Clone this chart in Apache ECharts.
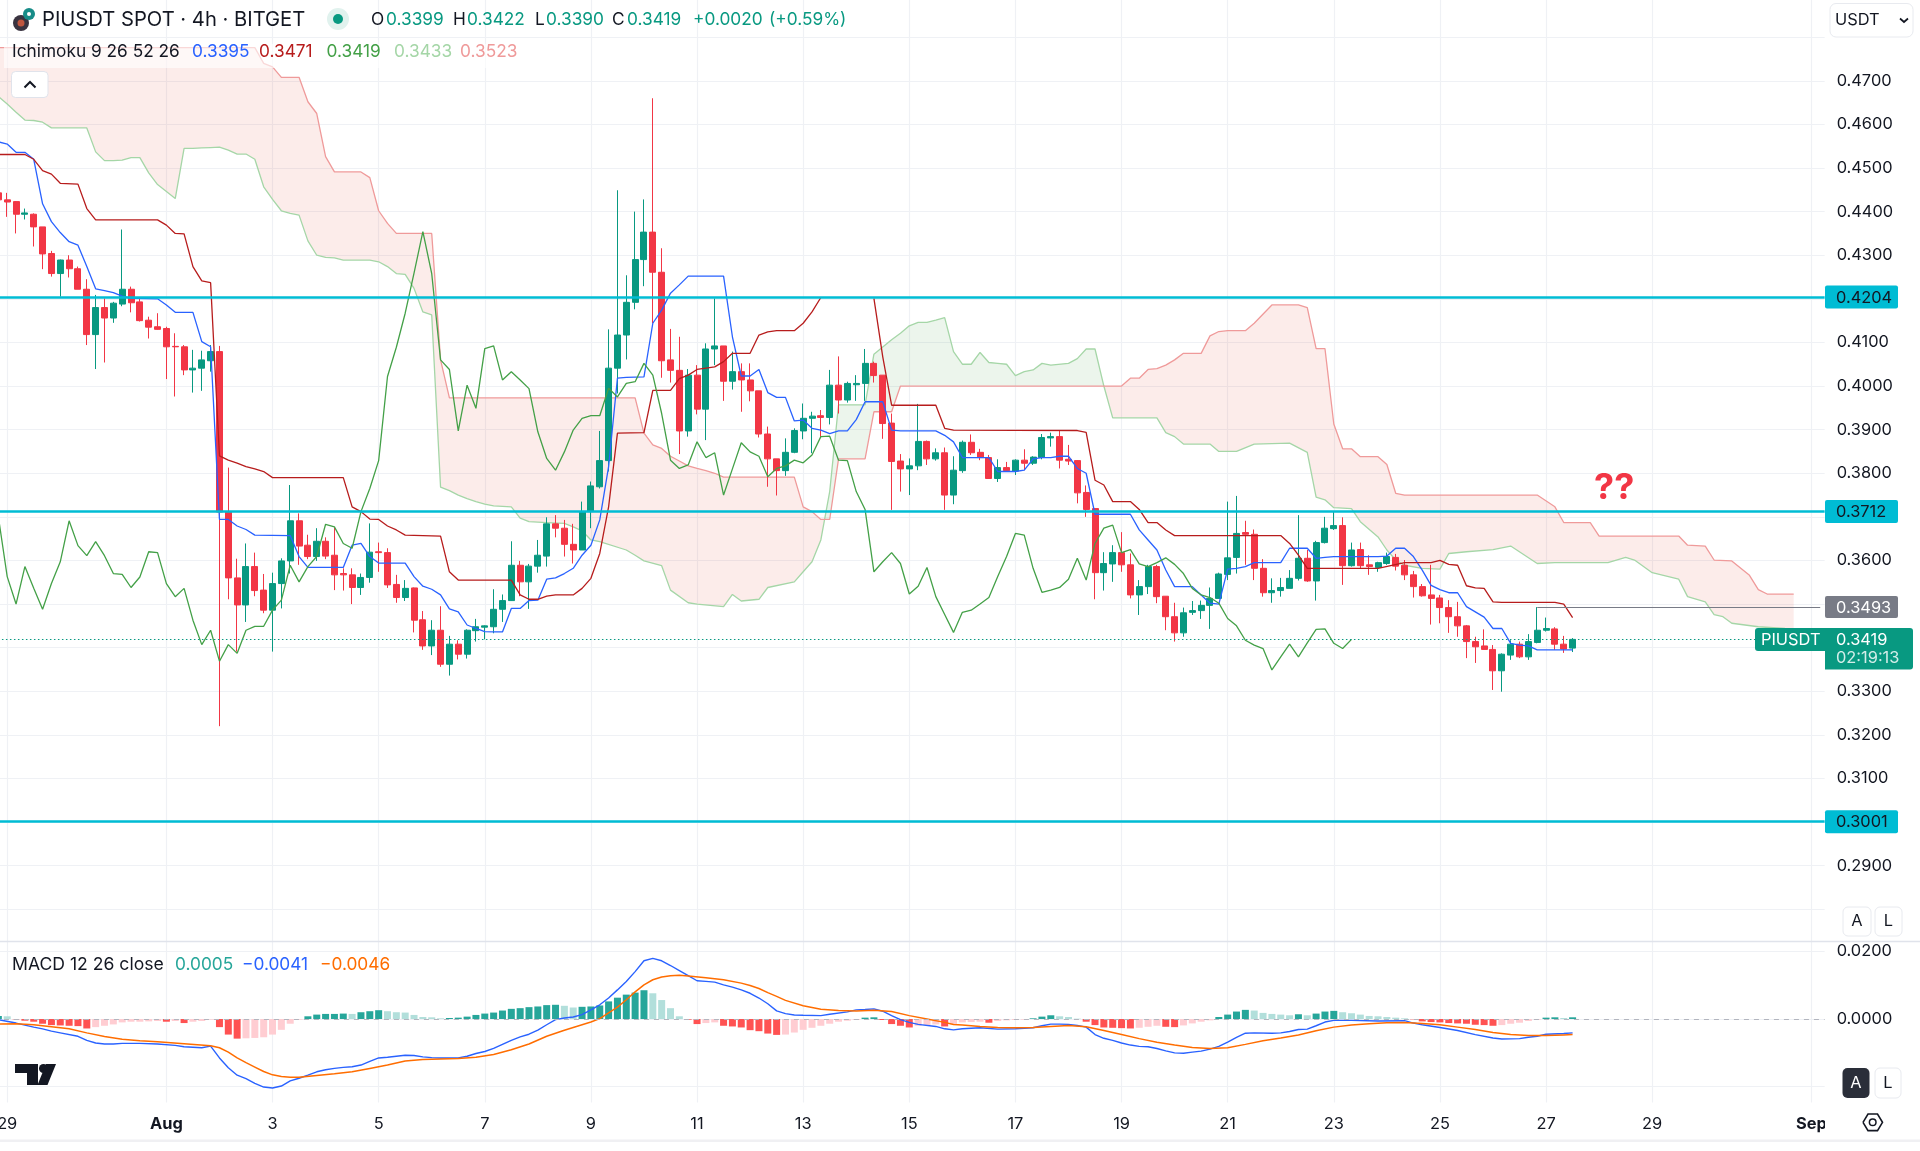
<!DOCTYPE html>
<html><head><meta charset="utf-8"><style>html,body{margin:0;padding:0;background:#fff}#c{width:1920px;height:1151px}</style>
<script src="https://cdn.jsdelivr.net/npm/echarts@6/dist/echarts.min.js"></script></head><body><div id="c"></div>
<script>
// bar number 0 = 29 Jul 00:00, one bar every 4 hours; first drawn bar is number -1
const firstBar=-1, lastBar=205;
const tickLabels={0:'29',18:'Aug',30:'3',42:'5',54:'7',66:'9',78:'11',90:'13',102:'15',114:'17',126:'19',138:'21',150:'23',162:'25',174:'27',186:'29',204:'Sep'};
const priceTicksHidden=['0.2800','0.3000','0.3400','0.3500','0.3700','0.4200','0.4800','0.4900'];
const opens=[.4443,.4427,.4423,.4394,.4394,.4365,.4304,.4258,.4289,.4269,.4222,.4118,.4180,.4156,.4188,.4222,.4193,.4151,.4136,.4132,
.4091,.4090,.4037,.4041,.4058,.4079,.3711,.3560,.3498,.3586,.3532,.3486,.3547,.3599,.3691,.3635,.3609,.3644,.3612,.3570,
.3567,.3538,.3561,.3620,.3618,.3545,.3515,.3537,.3464,.3404,.3440,.3362,.3408,.3385,.3439,.3447,.3448,.3488,.3508,.3589,
.3551,.3587,.3610,.3684,.3674,.3637,.3624,.3712,.3769,.3829,.4041,.4117,.4192,.4290,.4353,.4261,.4060,.4036,.3897,.4025,
.3947,.4085,.4092,.4011,.4033,.4014,.3989,.3890,.3833,.3806,.3848,.3897,.3926,.3932,.3928,.4002,.3968,.4003,.4006,.4052,
.4025,.3915,.3828,.3810,.3817,.3873,.3833,.3847,.3750,.3806,.3871,.3848,.3836,.3788,.3813,.3805,.3830,.3823,.3836,.3881,
.3884,.3832,.3829,.3756,.3719,.3572,.3592,.3618,.3590,.3521,.3540,.3586,.3518,.3471,.3434,.3481,.3485,.3497,.3513,.3568,
.3607,.3664,.3660,.3582,.3526,.3531,.3536,.3559,.3605,.3553,.3641,.3673,.3680,.3588,.3625,.3590,.3584,.3593,.3607,.3589,
.3567,.3540,.3521,.3514,.3492,.3471,.3450,.3414,.3404,.3396,.3347,.3383,.3408,.3379,.3412,.3440,.3443,.3408,.3399];
const closes=[.4427,.4422,.4394,.4397,.4365,.4303,.4258,.4289,.4269,.4222,.4118,.4180,.4156,.4190,.4222,.4191,.4150,.4135,.4130,.4090,
.4090,.4037,.4041,.4060,.4079,.3711,.3560,.3498,.3586,.3531,.3486,.3547,.3599,.3691,.3633,.3609,.3644,.3610,.3567,.3567,
.3538,.3561,.3619,.3618,.3544,.3515,.3536,.3463,.3404,.3440,.3362,.3408,.3385,.3440,.3448,.3450,.3488,.3508,.3589,.3551,
.3587,.3612,.3684,.3674,.3637,.3624,.3712,.3771,.3829,.4041,.4117,.4192,.4290,.4353,.4261,.4058,.4036,.3897,.4025,.3947,
.4085,.4092,.4011,.4033,.4014,.3989,.3890,.3833,.3806,.3848,.3898,.3926,.3931,.3928,.4002,.3968,.4006,.4006,.4052,.4024,
.3914,.3827,.3810,.3817,.3873,.3833,.3847,.3750,.3807,.3871,.3847,.3836,.3788,.3813,.3806,.3830,.3823,.3837,.3882,.3884,
.3830,.3828,.3755,.3717,.3572,.3593,.3618,.3590,.3521,.3540,.3586,.3517,.3471,.3434,.3480,.3485,.3497,.3513,.3569,.3606,
.3662,.3660,.3582,.3526,.3531,.3538,.3559,.3605,.3553,.3641,.3674,.3680,.3588,.3624,.3588,.3586,.3595,.3609,.3587,.3567,
.3540,.3519,.3513,.3492,.3471,.3450,.3414,.3402,.3396,.3347,.3385,.3408,.3379,.3414,.3440,.3444,.3408,.3397,.3419];
const highs=[.4450,.4443,.4424,.4407,.4396,.4365,.4310,.4290,.4300,.4274,.4245,.4209,.4201,.4193,.4359,.4228,.4201,.4159,.4167,.4136,
.4121,.4094,.4083,.4081,.4094,.4092,.3813,.3604,.3639,.3618,.3569,.3572,.3605,.3773,.3708,.3659,.3674,.3653,.3676,.3582,
.3582,.3570,.3685,.3641,.3628,.3567,.3555,.3538,.3484,.3463,.3495,.3427,.3417,.3442,.3466,.3451,.3534,.3522,.3644,.3599,
.3592,.3647,.3699,.3704,.3693,.3684,.3735,.3781,.3897,.4130,.4449,.4254,.4400,.4428,.4660,.4316,.4131,.4113,.4039,.4048,
.4098,.4201,.4092,.4079,.4052,.4052,.3989,.3907,.3833,.3880,.3903,.3960,.3941,.3945,.4037,.4068,.4010,.4025,.4085,.4056,
.4025,.3937,.3844,.3834,.3959,.3875,.3857,.3859,.3839,.3875,.3889,.3856,.3842,.3832,.3826,.3832,.3855,.3839,.3890,.3893,
.3898,.3865,.3830,.3772,.3720,.3619,.3635,.3665,.3616,.3555,.3590,.3590,.3518,.3503,.3492,.3507,.3508,.3538,.3572,.3735,
.3748,.3691,.3671,.3603,.3559,.3560,.3578,.3704,.3624,.3645,.3700,.3712,.3699,.3641,.3641,.3612,.3597,.3618,.3615,.3601,
.3576,.3546,.3590,.3521,.3509,.3505,.3452,.3425,.3442,.3406,.3387,.3417,.3414,.3431,.3493,.3469,.3447,.3427,.3422];
const lows=[.4425,.4388,.4350,.4382,.4320,.4268,.4251,.4205,.4249,.4222,.4094,.4039,.4054,.4145,.4183,.4169,.4148,.4109,.4129,.4016,
.3976,.4025,.3985,.3989,.4033,.3220,.3511,.3391,.3459,.3518,.3479,.3391,.3490,.3570,.3590,.3603,.3599,.3603,.3532,.3531,
.3500,.3521,.3549,.3574,.3537,.3503,.3507,.3435,.3395,.3383,.3356,.3336,.3373,.3375,.3414,.3419,.3433,.3459,.3507,.3518,
.3489,.3572,.3586,.3653,.3609,.3593,.3624,.3674,.3765,.3804,.3983,.4061,.4176,.4229,.4144,.4019,.4008,.3844,.3884,.3935,
.3876,.4048,.3966,.3992,.3941,.3965,.3882,.3769,.3749,.3794,.3846,.3878,.3846,.3882,.3912,.3937,.3962,.3966,.3966,.4008,
.3879,.3716,.3758,.3750,.3807,.3819,.3829,.3716,.3729,.3801,.3842,.3830,.3788,.3780,.3804,.3796,.3807,.3819,.3832,.3861,
.3811,.3819,.3731,.3700,.3511,.3531,.3551,.3574,.3513,.3475,.3523,.3502,.3440,.3414,.3425,.3475,.3466,.3443,.3513,.3555,
.3570,.3590,.3555,.3517,.3503,.3517,.3536,.3554,.3551,.3508,.3639,.3670,.3544,.3586,.3582,.3567,.3574,.3590,.3577,.3555,
.3515,.3517,.3453,.3456,.3434,.3425,.3376,.3365,.3395,.3303,.3299,.3372,.3376,.3372,.3410,.3437,.3395,.3388,.3390];
// Ichimoku lines: vertices, as bar number / value
const tenkanBars=[-1,0,1,2,3,4,5,6,7,8,9,10,11,12,13,14,17,18,19,21,22,23,24,25,26,27,28,32,33,34,38,39,40,41,42,45,46,47,48,49,50,51,52,53,54,55,56,57,58,59,60,61,62,63,64,65,66,67,68,69,70,72,73,74,75,76,77,81,82,83,84,85,86,87,88,89,90,91,92,93,94,95,96,97,99,100,101,105,106,107,108,111,112,114,115,116,117,118,119,120,121,122,123,127,128,129,130,131,132,134,135,136,137,138,139,140,141,144,145,147,148,149,150,155,156,157,158,159,160,161,162,163,164,165,166,167,168,169,170,171,172,173,177];
const tenkanVals=[.4560,.4555,.4536,.4536,.4520,.4418,.4377,.4352,.4331,.4323,.4274,.4223,.4219,.4214,.4206,.4201,.4200,.4186,.4169,.4169,.4102,.4090,.3694,.3694,.3679,.3671,.3658,.3657,.3609,.3584,.3584,.3635,.3639,.3609,.3594,.3594,.3563,.3541,.3534,.3521,.3489,.3482,.3452,.3444,.3437,.3436,.3436,.3490,.3490,.3508,.3509,.3557,.3560,.3570,.3582,.3612,.3635,.3693,.3815,.4018,.4020,.4021,.4144,.4174,.4213,.4232,.4252,.4252,.4113,.4023,.4023,.4038,.3985,.3974,.3974,.3920,.3922,.3903,.3899,.3891,.3897,.3897,.3923,.3964,.3964,.3899,.3897,.3897,.3887,.3872,.3836,.3836,.3804,.3804,.3807,.3833,.3836,.3836,.3839,.3839,.3811,.3800,.3706,.3706,.3670,.3647,.3624,.3578,.3540,.3540,.3521,.3502,.3500,.3580,.3582,.3586,.3595,.3595,.3628,.3628,.3605,.3607,.3609,.3609,.3610,.3628,.3628,.3609,.3578,.3543,.3533,.3526,.3526,.3494,.3482,.3470,.3444,.3444,.3410,.3406,.3404,.3395,.3395];
const kijunBars=[-1,2,3,4,5,6,8,9,10,17,18,19,20,21,22,23,24,25,26,27,28,29,30,38,39,40,41,42,43,44,45,49,50,51,57,58,59,60,61,62,64,65,66,67,68,69,72,73,75,76,77,78,80,81,82,84,85,86,87,89,90,91,92,93,98,99,100,105,106,107,121,122,123,124,125,127,128,129,130,131,132,144,145,146,147,155,158,161,162,163,164,165,166,167,168,169,175,176,177];
const kijunVals=[.4531,.4531,.4520,.4494,.4486,.4465,.4463,.4407,.4381,.4381,.4369,.4350,.4349,.4274,.4241,.4237,.3840,.3830,.3823,.3815,.3810,.3804,.3790,.3790,.3723,.3712,.3695,.3694,.3679,.3670,.3658,.3656,.3574,.3555,.3555,.3521,.3511,.3511,.3518,.3521,.3521,.3536,.3559,.3616,.3723,.3892,.3893,.3990,.3990,.4017,.4025,.4038,.4044,.4056,.4075,.4075,.4117,.4124,.4127,.4127,.4144,.4170,.4203,null,.4201,.4067,.3956,.3956,.3903,.3899,.3898,.3894,.3784,.3773,.3735,.3735,.3717,.3687,.3687,.3670,.3657,.3657,.3639,.3612,.3582,.3582,.3595,.3595,.3600,.3591,.3589,.3542,.3537,.3536,.3505,.3504,.3504,.3500,.3469];
const chikouBars=[-1,0,1,2,3,4,5,6,7,8,9,10,11,12,13,14,15,16,17,18,19,20,21,22,23,24,25,26,27,28,29,30,31,32,33,34,35,36,37,38,39,40,41,42,43,44,45,46,47,48,49,50,51,52,53,54,55,56,57,58,59,60,61,62,63,64,65,66,67,68,69,70,71,72,73,74,75,76,77,78,79,80,81,82,83,84,85,86,87,88,89,90,91,92,93,94,95,96,97,98,99,100,101,102,103,104,105,106,107,108,109,110,111,112,113,114,115,116,117,118,119,120,121,122,123,124,125,126,127,128,129,130,131,132,133,134,135,136,137,138,139,140,141,142,143,144,145,146,147,148,149,150,151,152];
const chikouVals=[.3700,.3563,.3500,.3586,.3536,.3488,.3547,.3597,.3691,.3634,.3611,.3643,.3611,.3570,.3568,.3538,.3562,.3620,.3618,.3547,.3517,.3536,.3463,.3407,.3440,.3369,.3407,.3387,.3440,.3449,.3449,.3486,.3509,.3589,.3551,.3586,.3609,.3683,.3677,.3639,.3628,.3712,.3765,.3829,.4022,.4089,.4167,.4259,.4354,.4258,.4060,.4038,.3897,.4002,.3949,.4086,.4092,.4014,.4033,.4014,.3994,.3895,.3834,.3807,.3849,.3899,.3926,.3932,.3932,.3995,.3975,.4006,.4010,.4052,.4025,.3937,.3830,.3811,.3819,.3872,.3836,.3847,.3750,.3810,.3870,.3849,.3839,.3792,.3811,.3817,.3830,.3824,.3842,.3884,.3885,.3830,.3829,.3758,.3717,.3574,.3597,.3618,.3593,.3523,.3541,.3584,.3517,.3476,.3435,.3481,.3486,.3500,.3515,.3563,.3609,.3662,.3658,.3582,.3527,.3532,.3538,.3557,.3605,.3555,.3639,.3674,.3681,.3618,.3625,.3592,.3586,.3595,.3606,.3591,.3570,.3536,.3521,.3515,.3502,.3467,.3450,.3417,.3406,.3398,.3349,.3379,.3408,.3379,.3411,.3442,.3443,.3410,.3398,.3419];
const spanABars=[-1,0,1,2,3,4,5,9,10,11,12,13,14,15,16,17,18,19,20,21,22,23,24,25,26,27,28,29,30,31,32,33,34,35,36,37,38,41,42,43,44,45,46,47,48,49,50,51,52,53,54,55,57,58,59,61,63,64,65,66,67,70,71,72,74,75,77,78,81,82,83,85,86,89,90,91,92,93,94,97,98,100,101,102,103,104,105,106,107,108,109,110,111,112,113,114,115,116,117,118,120,121,122,123,124,125,130,131,132,133,136,137,139,141,145,147,148,149,150,152,153,155,156,157,158,160,162,163,165,168,170,173,175,181,183,184,186,189,190,192,193,194,195,198,201,202];
const spanAVals=[.4664,.4647,.4628,.4610,.4609,.4605,.4592,.4592,.4537,.4517,.4517,.4518,.4524,.4524,.4489,.4462,.4446,.4430,.4545,.4545,.4546,.4547,.4548,.4541,.4532,.4532,.4520,.4457,.4428,.4402,.4396,.4392,.4333,.4300,.4295,.4294,.4289,.4289,.4285,.4274,.4258,.4256,.4224,.4170,.4163,.3768,.3760,.3750,.3742,.3735,.3729,.3725,.3723,.3697,.3689,.3687,.3685,.3677,.3668,.3647,.3643,.3624,.3612,.3599,.3588,.3532,.3503,.3500,.3494,.3522,.3507,.3511,.3538,.3551,.3574,.3597,.3647,.3758,.3957,.3957,.4073,.4106,.4121,.4138,.4146,.4146,.4151,.4157,.4079,.4050,.4050,.4077,.4054,.4052,.4050,.4024,.4033,.4037,.4052,.4048,.4052,.4063,.4085,.4085,.4000,.3927,.3927,.3893,.3884,.3867,.3867,.3850,.3850,.3867,.3869,.3848,.3745,.3739,.3721,.3719,.3689,.3654,.3624,.3601,.3589,.3582,.3580,.3616,.3620,.3625,.3633,.3593,.3595,.3595,.3607,.3601,.3572,.3557,.3517,.3505,.3476,.3471,.3456,.3448,.3444,.3433];
const spanBBars=[-1,28,29,30,31,33,34,35,36,37,40,41,42,43,44,48,49,50,71,72,73,74,75,76,77,78,79,80,81,89,90,91,92,93,94,97,98,100,101,126,127,128,129,130,131,132,133,135,136,137,138,140,141,143,146,147,148,149,150,151,152,153,155,156,157,158,173,175,176,179,180,189,190,192,193,195,197,198,199,202];
const spanBVals=[.4776,.4776,.4740,.4732,.4708,.4708,.4652,.4625,.4526,.4491,.4491,.4478,.4402,.4373,.4350,.4350,.4060,.3973,.3973,.3892,.3865,.3857,.3839,.3828,.3817,.3811,.3806,.3800,.3791,.3791,.3723,.3712,.3694,.3694,.3833,.3833,.3941,.3941,.4000,.4000,.4018,.4018,.4038,.4040,.4048,.4060,.4075,.4075,.4115,.4125,.4127,.4127,.4144,.4186,.4186,.4180,.4086,.4086,.3913,.3856,.3856,.3838,.3838,.3820,.3754,.3750,.3750,.3723,.3687,.3687,.3656,.3656,.3635,.3633,.3601,.3599,.3566,.3533,.3523,.3523];
const cloudCrossings=[{bar:92,frac:.42,val:.3694},{bar:124,frac:0,val:.4000}];
const levels=[.4204,.3712,.3001];
const lastHigh=.3493, lastHighBar=173, lastPrice=.3419;
// MACD histogram in units of 0.0001, one per bar from number -1 to 177
const macdHistUnits=[9,8,-1,-5,-8,-14,-18,-19,-20,-21,-28,-24,-20,-16,-10,-8,-8,-7,-6,-8,-6,-12,-8,-6,-2,-24,-46,-58,-57,-56,-54,-46,-32,-14,-2,8,13,15,15,16,15,20,23,26,23,20,19,12,6,5,2,3,4,7,12,16,19,25,30,32,35,37,41,42,39,34,36,37,40,52,63,72,78,85,76,56,32,8,-2,-15,-12,-10,-20,-22,-25,-33,-36,-43,-47,-46,-40,-32,-26,-20,-14,-8,-5,-3,4,5,-3,-15,-20,-25,-20,-18,-16,-22,-16,-10,-9,-8,-11,-6,-4,-3,-2,2,7,11,8,6,1,-8,-18,-25,-26,-27,-28,-26,-23,-20,-23,-24,-19,-13,-8,-4,6,13,22,27,25,18,15,13,11,14,11,16,22,24,20,17,13,9,8,6,4,2,-1,-7,-9,-10,-12,-13,-14,-17,-18,-20,-18,-14,-11,-6,-2,4,5,3,5];
const macdBars=[-1,1,3,4,5,6,8,9,10,11,12,13,15,17,19,20,22,23,24,25,26,27,28,29,30,31,32,33,34,35,36,37,38,39,40,41,42,43,44,45,46,47,48,49,51,52,53,54,55,56,57,58,59,60,61,62,63,64,65,66,67,68,69,70,71,72,73,74,75,76,77,78,79,80,81,82,83,84,85,86,87,88,89,90,92,93,95,96,97,98,99,100,101,102,103,105,106,107,108,110,112,114,116,117,118,119,120,121,122,123,124,125,126,127,128,129,130,131,132,133,134,135,136,137,138,139,140,141,143,144,145,146,147,148,149,150,152,155,158,159,160,162,164,166,168,169,171,172,173,174,176,177];
const macdVals=[-.0002,-.0012,-.0024,-.0029,-.0036,-.0041,-.0051,-.0063,-.0071,-.0074,-.0074,-.0072,-.0072,-.0074,-.0078,-.0082,-.0085,-.0080,-.0115,-.0144,-.0166,-.0176,-.0190,-.0201,-.0204,-.0198,-.0183,-.0175,-.0166,-.0156,-.0150,-.0146,-.0143,-.0141,-.0136,-.0125,-.0115,-.0113,-.0110,-.0107,-.0108,-.0112,-.0114,-.0115,-.0115,-.0110,-.0102,-.0096,-.0087,-.0075,-.0063,-.0053,-.0045,-.0033,-.0017,-.0002,.0003,.0006,.0013,.0027,.0042,.0062,.0086,.0111,.0140,.0172,.0179,.0172,.0158,.0143,.0128,.0113,.0111,.0109,.0101,.0094,.0086,.0076,.0062,.0045,.0024,.0016,.0012,.0011,.0010,.0014,.0021,.0027,.0028,.0030,.0023,.0010,-.0002,-.0010,-.0016,-.0022,-.0029,-.0032,-.0029,-.0026,-.0030,-.0029,-.0026,-.0020,-.0015,-.0015,-.0016,-.0019,-.0024,-.0046,-.0057,-.0063,-.0071,-.0077,-.0081,-.0082,-.0087,-.0094,-.0100,-.0101,-.0098,-.0095,-.0089,-.0081,-.0068,-.0054,-.0042,-.0041,-.0042,-.0041,-.0037,-.0031,-.0030,-.0020,-.0009,-.0004,-.0004,-.0006,-.0005,-.0012,-.0017,-.0025,-.0034,-.0046,-.0056,-.0059,-.0058,-.0054,-.0051,-.0045,-.0043,-.0041];
const signalBars=[-1,1,3,5,7,9,11,13,15,17,20,23,24,25,26,27,28,29,30,31,32,33,35,37,39,41,43,45,47,49,51,53,55,57,59,61,63,65,66,67,68,69,70,71,72,73,74,75,76,77,79,81,83,84,85,86,87,88,90,92,94,96,98,100,102,104,106,107,108,110,112,114,116,118,120,122,124,126,128,130,132,134,136,138,140,142,144,146,148,150,152,154,156,158,160,162,164,166,168,170,172,174,176,177];
const signalVals=[-.0015,-.0014,-.0017,-.0023,-.0029,-.0041,-.0052,-.0060,-.0064,-.0067,-.0073,-.0079,-.0085,-.0098,-.0115,-.0129,-.0142,-.0155,-.0165,-.0170,-.0172,-.0172,-.0167,-.0162,-.0156,-.0146,-.0136,-.0124,-.0120,-.0118,-.0117,-.0113,-.0105,-.0091,-.0074,-.0051,-.0033,-.0017,-.0009,.0001,.0018,.0035,.0057,.0080,.0101,.0116,.0124,.0128,.0129,.0127,.0122,.0116,.0106,.0099,.0090,.0078,.0067,.0055,.0039,.0029,.0025,.0024,.0026,.0022,.0010,0,-.0010,-.0016,-.0018,-.0022,-.0025,-.0026,-.0025,-.0022,-.0019,-.0023,-.0034,-.0046,-.0058,-.0069,-.0077,-.0084,-.0087,-.0085,-.0075,-.0064,-.0056,-.0047,-.0035,-.0024,-.0018,-.0014,-.0011,-.0010,-.0013,-.0017,-.0024,-.0031,-.0040,-.0046,-.0049,-.0049,-.0047,-.0046];

const FONT='Inter';
const UP='#089981',DOWN='#F23645';
const slot=b=>b-firstBar;
const categories=[];for(let b=firstBar;b<=lastBar;b++)categories.push(tickLabels[b]||'');
const zip=(bars,vals)=>bars.map((b,i)=>[slot(b),vals[i]]);
const candleData=opens.map((o,i)=>[o,closes[i],lows[i],highs[i]]);
const macdHist=macdHistUnits.map(v=>v/10000);
const histData=macdHist.map((v,i)=>{const p=i?macdHist[i-1]:v;
  const c=v>=0?(v>=p?'#26A69A':'#B2DFDB'):(v<p?'#FF5252':'#FFCDD2');
  return {value:v,itemStyle:{color:c}};});

function cloudPolygon(api,from,to){
  const pts=[];const band=api.size([1,0])[0];
  const cross=(c)=>{const p=api.coord([slot(c.bar),c.val]);return [p[0]+c.frac*band,p[1]];};
  if(from.cross)pts.push(cross(from.cross));
  spanABars.forEach((b,i)=>{if(b>=from.bar&&b<=to.bar)pts.push(api.coord([slot(b),spanAVals[i]]));});
  if(to.cross)pts.push(cross(to.cross));
  const back=[];
  spanBBars.forEach((b,i)=>{if(b>=from.bar&&b<=to.bar)back.push(api.coord([slot(b),spanBVals[i]]));});
  return pts.concat(back.reverse());
}
const cloudParts=[
 {from:{bar:-1},to:{bar:92,cross:cloudCrossings[0]},color:'rgba(232,84,66,0.115)'},
 {from:{bar:93,cross:cloudCrossings[0]},to:{bar:123,cross:cloudCrossings[1]},color:'rgba(67,160,71,0.10)'},
 {from:{bar:125,cross:cloudCrossings[1]},to:{bar:202},color:'rgba(232,84,66,0.115)'}];

const L=-6.06,W=1830.7;
const line=(name,data,color,z,width)=>({name,type:'line',data,xAxisIndex:0,yAxisIndex:0,showSymbol:false,symbol:'none',clip:false,z,lineStyle:{color,width:width||1.3},silent:true,animation:false,connectNulls:false});
const chart=echarts.init(document.getElementById('c'),null,{renderer:'canvas'});
const gridLine='#EFF1F5';
const AXF=16.4;
chart.setOption({
  animation:false,backgroundColor:'#fff',
  grid:[{left:L,width:W,top:-6.4,height:915.7,outerBoundsMode:'none'},{left:L,width:W,top:951.3,height:135.4,outerBoundsMode:'none'},{left:L,width:W,top:0,height:1102.6,outerBoundsMode:'none'}],
  xAxis:[
   {type:'category',gridIndex:0,data:categories,show:false},
   {type:'category',gridIndex:1,data:categories,show:false},
   {type:'category',gridIndex:2,data:categories,axisLine:{show:false},axisTick:{show:false},
    splitLine:{show:true,alignWithLabel:true,interval:(i)=>!!categories[i],lineStyle:{color:gridLine,width:1.2}},
    axisLabel:{interval:(i)=>!!categories[i],margin:13,hideOverlap:false,fontFamily:FONT,fontSize:AXF,color:'#131722',
      formatter:(v)=>(v==='Aug'||v==='Sep')?'{b|'+v+'}':v,rich:{b:{fontFamily:FONT,fontSize:AXF,fontWeight:700,color:'#131722'}}}}],
  yAxis:[
   {type:'value',gridIndex:0,position:'right',min:.28,max:.49,interval:.01,axisLine:{show:false},axisTick:{show:false},
    splitLine:{show:true,lineStyle:{color:gridLine,width:1.2}},
    axisLabel:{margin:12,padding:[2,0,0,0],fontFamily:FONT,fontSize:AXF,color:'#131722',formatter:(v)=>{const s=v.toFixed(4);return priceTicksHidden.includes(s)?'':s;}}},
   {type:'value',gridIndex:1,position:'right',min:-.02,max:.02,interval:.02,axisLine:{show:false},axisTick:{show:false},
    splitLine:{show:true,lineStyle:{color:gridLine,width:1.2}},
    axisLabel:{margin:12,padding:[2,0,0,0],fontFamily:FONT,fontSize:AXF,color:'#131722',formatter:(v)=>v<-.01?'':v.toFixed(4)}},
   {type:'value',gridIndex:2,show:false,min:0,max:1}],
  series:[
   {type:'custom',xAxisIndex:0,yAxisIndex:0,z:1,silent:true,animation:false,data:cloudParts.map((p,i)=>[slot(p.from.bar),.4,i]),encode:{x:0,y:1},
    renderItem:(params,api)=>{const part=cloudParts[api.value(2)];
      return {type:'polygon',shape:{points:cloudPolygon(api,part.from,part.to)},style:{fill:part.color,stroke:null}};}},
   line('Span A',zip(spanABars,spanAVals),'#A5D6A7',2),
   line('Span B',zip(spanBBars,spanBVals),'#EF9A9A',2),
   {type:'candlestick',xAxisIndex:0,yAxisIndex:0,z:3,barWidth:6.5,data:candleData,silent:true,animation:false,clip:false,
    itemStyle:{color:UP,color0:DOWN,borderColor:UP,borderColor0:DOWN,borderWidth:1}},
   line('Conversion',zip(tenkanBars,tenkanVals),'#2962FF',4),
   line('Base',zip(kijunBars,kijunVals),'#B71C1C',4),
   line('Lagging',zip(chikouBars,chikouVals),'#43A047',4),
   {type:'line',xAxisIndex:0,yAxisIndex:0,data:[],z:6,silent:true,animation:false,
    markLine:{silent:true,symbol:'none',animation:false,precision:4,label:{show:false},z:6,data:[
      ...levels.map(v=>({yAxis:v,lineStyle:{color:'#00BCD4',width:2.6,type:'solid'}})),
      {yAxis:lastPrice,lineStyle:{color:UP,width:1,type:[1.5,2.5]}},
      [{coord:[slot(lastHighBar),lastHigh],lineStyle:{color:'#787B86',width:1.2,type:'solid'}},{coord:[categories.length-1,lastHigh]}]
    ]}},
   {type:'bar',xAxisIndex:1,yAxisIndex:1,barWidth:7,data:histData,silent:true,animation:false,z:2,
    markLine:{silent:true,symbol:'none',animation:false,precision:4,label:{show:false},data:[{yAxis:0,lineStyle:{color:'#B2B5BE',width:1,type:[5,5]}}]}},
   {type:'line',xAxisIndex:1,yAxisIndex:1,data:zip(macdBars,macdVals),symbol:'none',clip:false,z:3,silent:true,animation:false,lineStyle:{color:'#2962FF',width:1.4}},
   {type:'line',xAxisIndex:1,yAxisIndex:1,data:zip(signalBars,signalVals),symbol:'none',clip:false,z:3,silent:true,animation:false,lineStyle:{color:'#FF6D00',width:1.5}}
  ]
});

// ---- chart furniture: legends, price tags, buttons
const DARK='#131722';
const LF=17.3,TF=16.4;
const txt=(text,x,y,fill,size,extra)=>({type:'text',x,y,z:50,silent:true,style:{text,fill:fill||DARK,font:(extra&&extra.weight||'400')+' '+(size||16)+'px '+FONT,textVerticalAlign:'middle',textAlign:extra&&extra.align||'left',opacity:extra&&extra.opacity||1}});
const box=(x,y,w,h,fill,stroke,r)=>({type:'rect',z:49,silent:true,shape:{x,y,width:w,height:h,r:r==null?3:r},style:{fill:fill,stroke:stroke||null,lineWidth:1}});
const poly=(pts,stroke,lw)=>({type:'polyline',z:50,silent:true,shape:{points:pts},style:{stroke:stroke||DARK,lineWidth:lw||1.6,fill:null}});
const py=v=>chart.convertToPixel({yAxisIndex:0},v);
const G=UP;
const g=[
 box(4,44,516,24,'rgba(255,255,255,0.62)',null,0),
 {type:'circle',z:50,silent:true,shape:{cx:21,cy:23,r:8},style:{fill:'#3A3340'}},
 {type:'circle',z:50,silent:true,shape:{cx:21,cy:23,r:3.5},style:{fill:'#C0563F'}},
 {type:'circle',z:50,silent:true,shape:{cx:29,cy:14,r:6},style:{fill:'#178C88'}},
 {type:'circle',z:50,silent:true,shape:{cx:29,cy:14,r:2},style:{fill:'#fff'}},
 txt('PIUSDT SPOT · 4h · BITGET',42,19.5,DARK,20.2),
 {type:'circle',z:50,silent:true,shape:{cx:338,cy:19,r:11},style:{fill:'#E1F2EE'}},
 {type:'circle',z:50,silent:true,shape:{cx:338,cy:19,r:5},style:{fill:G}},
 txt('O',371,19.5,DARK,LF),txt('0.3399',386,19.5,G,LF),
 txt('H',453,19.5,DARK,LF),txt('0.3422',467,19.5,G,LF),
 txt('L',535,19.5,DARK,LF),txt('0.3390',546,19.5,G,LF),
 txt('C',612,19.5,DARK,LF),txt('0.3419',627,19.5,G,LF),
 txt('+0.0020',693,19.5,G,LF),txt('(+0.59%)',769,19.5,G,LF),
 txt('Ichimoku 9 26 52 26',12,52,DARK,LF),
 txt('0.3395',192,52,'#2962FF',LF),txt('0.3471',259,52,'#B71C1C',LF),txt('0.3419',326.5,52,'#43A047',LF),
 txt('0.3433',394,52,'#A5D6A7',LF),txt('0.3523',460,52,'#EF9A9A',LF),
 box(11.5,71.5,36.5,26,'#fff','#E0E3EB',4),
 poly([[24.5,87.5],[30,82],[35.5,87.5]],DARK,2),
 box(1830,3.5,83,33.5,'#fff','#E8EAEF',6),txt('USDT',1835,20.5,DARK,TF),poly([[1900,18.5],[1904,22],[1908,18.5]],DARK,1.7),
 txt('MACD 12 26 close',12,964.5,DARK,17.6),
 txt('0.0005',175,964.5,'#26A69A',LF),txt('−0.0041',242,964.5,'#2962FF',LF),txt('−0.0046',320,964.5,'#FF6D00',LF),
 {type:'line',z:5,silent:true,shape:{x1:0,y1:941.5,x2:1920,y2:941.5},style:{stroke:'#E0E3EB',lineWidth:1.4}},
 box(0,1139.5,1920,2.4,'#F0F0F3',null,0),
 box(1825,1110,30,26,'#fff',null,0),
 {type:'polygon',z:50,silent:true,shape:{points:[[15,1064],[38,1064],[38,1085],[27,1085],[27,1073],[15,1073]]},style:{fill:DARK}},
 {type:'circle',z:50,silent:true,shape:{cx:43.5,cy:1068.5,r:4.5},style:{fill:DARK}},
 {type:'polygon',z:50,silent:true,shape:{points:[[46,1064],[56,1064],[47.5,1085],[37.5,1085]]},style:{fill:DARK}},
 box(1843,907,28,29,'#fff','#E8EAEF',5),txt('A',1857,921.5,DARK,TF,{align:'center'}),
 box(1875,907,27,29,'#fff','#E8EAEF',5),txt('L',1888.5,921.5,DARK,TF,{align:'center'}),
 box(1842.5,1068,27,30,'#2A2E39',null,5),txt('A',1856,1083,'#fff',TF,{align:'center'}),
 box(1875,1068,26,30,'#fff','#E8EAEF',5),txt('L',1888,1083,DARK,TF,{align:'center'}),
 poly([[1863,1122.3],[1868,1114],[1877.5,1114],[1882.5,1122.3],[1877.5,1130.6],[1868,1130.6],[1863,1122.3]],DARK,1.6),
 {type:'circle',z:50,silent:true,shape:{cx:1872.7,cy:1122.3,r:3.3},style:{fill:'#fff',stroke:DARK,lineWidth:1.5}},
 txt('??',1594,488,DOWN,36,{weight:'700'}),
];
levels.forEach(v=>{const y=py(v);g.push(box(1825,y-11.5,73,23,'#00BCD4',null,2));g.push(txt(v.toFixed(4),1836,y+.5,DARK,TF));});
{const y=py(lastHigh);g.push(box(1825,y-11,73,22,'#787B86',null,2));g.push(txt(lastHigh.toFixed(4),1836,y+.5,'#fff',TF));}
{const y=py(lastPrice);
 g.push(box(1755,y-11.5,70,23,G,null,[3,0,0,3]));g.push(txt('PIUSDT',1761,y+.5,'#fff',TF));
 g.push(box(1825,y-11.5,88,41.5,G,null,[0,3,3,0]));g.push(txt(lastPrice.toFixed(4),1836,y+.5,'#fff',TF));g.push(txt('02:19:13',1836,y+19,'#fff',TF,{opacity:.82}));}
chart.setOption({graphic:g});
</script></body></html>
